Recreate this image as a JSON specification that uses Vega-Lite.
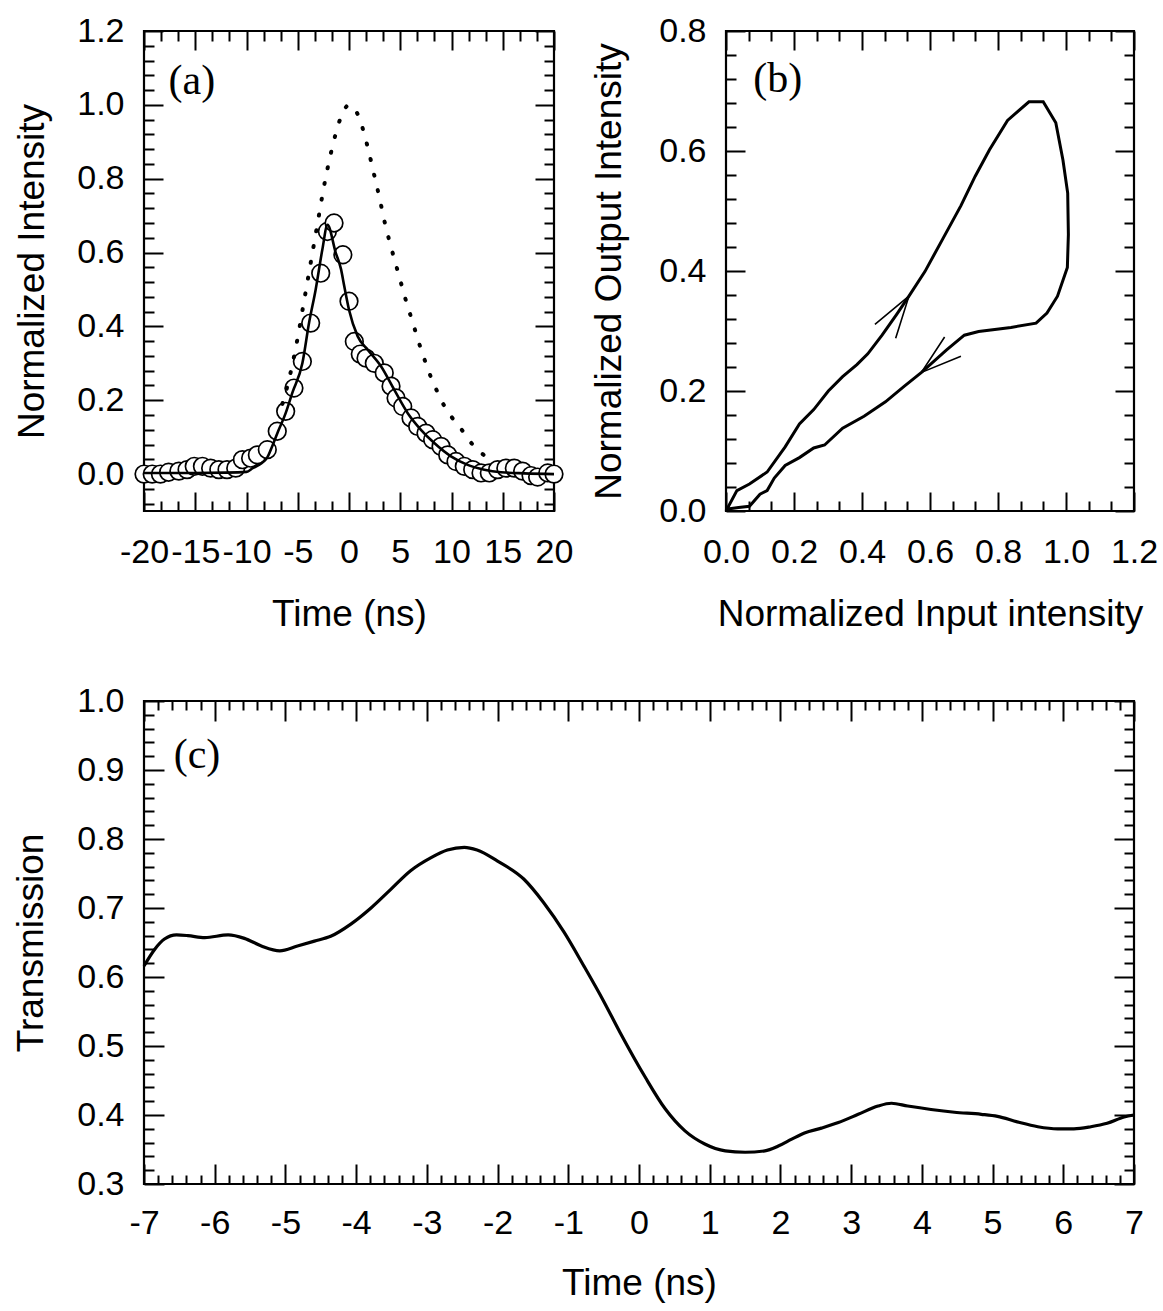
{
  "$schema": "https://vega.github.io/schema/vega-lite/v6.json",
  "background": "white",
  "padding": {"left": 11, "top": 12, "right": 5, "bottom": 5},
  "config": {
    "view": {"stroke": "black", "strokeWidth": 2.2},
    "axis": {"domain": false, "grid": false, "labelFont": "Liberation Sans", "labelFontSize": 34, "labelColor": "black", "titleFont": "Liberation Sans", "titleFontSize": 37, "titleFontWeight": "normal", "titleColor": "black", "tickColor": "black", "tickWidth": 2, "labelOverlap": false, "labelFlush": false, "labelBound": false}
  },
  "spacing": 48,
  "vconcat": [
    {
      "spacing": 14,
      "hconcat": [
        {
          "width": 410, "height": 480,
          "resolve": {"axis": {"x": "independent", "y": "independent"}},
          "layer": [
            {
              "data": {"values": [
                {"t": -20, "v": 0.0}, {"t": -19.2, "v": 0.0}, {"t": -18.4, "v": 0.0}, {"t": -17.6, "v": 0.005}, {"t": -16.6, "v": 0.008},
                {"t": -15.8, "v": 0.012}, {"t": -15.1, "v": 0.021}, {"t": -14.3, "v": 0.021}, {"t": -13.5, "v": 0.016}, {"t": -12.7, "v": 0.012},
                {"t": -11.9, "v": 0.012}, {"t": -11.05, "v": 0.016}, {"t": -10.4, "v": 0.039}, {"t": -9.6, "v": 0.043}, {"t": -8.94, "v": 0.052},
                {"t": -7.97, "v": 0.066}, {"t": -7.0, "v": 0.116}, {"t": -6.18, "v": 0.17}, {"t": -5.37, "v": 0.233}, {"t": -4.55, "v": 0.305},
                {"t": -3.74, "v": 0.409}, {"t": -2.76, "v": 0.544}, {"t": -2.11, "v": 0.657}, {"t": -1.46, "v": 0.68}, {"t": -0.6, "v": 0.594},
                {"t": 0.0, "v": 0.468}, {"t": 0.52, "v": 0.359}, {"t": 1.1, "v": 0.325}, {"t": 1.66, "v": 0.314}, {"t": 2.47, "v": 0.30},
                {"t": 3.44, "v": 0.274}, {"t": 4.1, "v": 0.238}, {"t": 4.59, "v": 0.206}, {"t": 5.24, "v": 0.183}, {"t": 6.05, "v": 0.152},
                {"t": 6.7, "v": 0.129}, {"t": 7.51, "v": 0.111}, {"t": 8.16, "v": 0.093}, {"t": 8.98, "v": 0.075}, {"t": 9.63, "v": 0.052},
                {"t": 10.44, "v": 0.034}, {"t": 11.25, "v": 0.021}, {"t": 12.07, "v": 0.012}, {"t": 12.88, "v": 0.003}, {"t": 13.69, "v": 0.003},
                {"t": 14.5, "v": 0.012}, {"t": 15.3, "v": 0.016}, {"t": 16.13, "v": 0.016}, {"t": 16.94, "v": 0.008}, {"t": 17.76, "v": -0.004},
                {"t": 18.4, "v": -0.008}, {"t": 19.39, "v": 0.003}, {"t": 20, "v": 0.0}
              ]},
              "mark": {"type": "point", "shape": "circle", "filled": true, "fill": "white", "stroke": "black", "strokeWidth": 1.7, "size": 310, "opacity": 1, "clip": false},
              "encoding": {
                "x": {"field": "t", "type": "quantitative", "scale": {"domain": [-20, 20], "nice": false, "zero": false},
                  "axis": {"orient": "bottom", "title": "Time (ns)", "titlePadding": 18,
                    "values": [-20, -18.3333, -16.6667, -15, -13.3333, -11.6667, -10, -8.3333, -6.6667, -5, -3.3333, -1.6667, 0, 1.6667, 3.3333, 5, 6.6667, 8.3333, 10, 11.6667, 13.3333, 15, 16.6667, 18.3333, 20],
                    "tickSize": {"condition": {"test": "datum.value % 5 === 0", "value": -19}, "value": -10},
                    "labelExpr": "datum.value % 5 === 0 ? '' + datum.value : ''", "labelPadding": 43}},
                "y": {"field": "v", "type": "quantitative", "scale": {"domain": [-0.1, 1.2], "nice": false, "zero": false},
                  "axis": {"orient": "left", "title": "Normalized Intensity", "titlePadding": 25,
                    "values": [-0.08, -0.04, 0, 0.04, 0.08, 0.12, 0.16, 0.2, 0.24, 0.28, 0.32, 0.36, 0.4, 0.44, 0.48, 0.52, 0.56, 0.6, 0.64, 0.68, 0.72, 0.76, 0.8, 0.84, 0.88, 0.92, 0.96, 1.0, 1.04, 1.08, 1.12, 1.16, 1.2],
                    "tickSize": {"condition": {"test": "abs(datum.value*5 - round(datum.value*5)) < 0.001", "value": -19}, "value": -10},
                    "labelExpr": "abs(datum.value*5 - round(datum.value*5)) < 0.001 ? format(datum.value, '.1f') : ''", "labelPadding": 39}}
              }
            },
            {
              "data": {"values": [
                {"t": -20, "v": 0.003}, {"t": -16, "v": 0.003}, {"t": -12, "v": 0.004}, {"t": -10, "v": 0.006}, {"t": -9.4, "v": 0.016},
                {"t": -8.5, "v": 0.03}, {"t": -7.97, "v": 0.045}, {"t": -7.5, "v": 0.075}, {"t": -7.0, "v": 0.11}, {"t": -6.18, "v": 0.165},
                {"t": -5.53, "v": 0.22}, {"t": -4.55, "v": 0.30}, {"t": -3.9, "v": 0.409}, {"t": -3.25, "v": 0.50}, {"t": -2.6, "v": 0.608},
                {"t": -2.1, "v": 0.675}, {"t": -1.3, "v": 0.6}, {"t": -0.78, "v": 0.555}, {"t": -0.47, "v": 0.51}, {"t": 0.0, "v": 0.445},
                {"t": 0.85, "v": 0.373}, {"t": 1.82, "v": 0.337}, {"t": 3.12, "v": 0.292}, {"t": 4.42, "v": 0.228}, {"t": 5.73, "v": 0.165},
                {"t": 7.02, "v": 0.12}, {"t": 8.32, "v": 0.084}, {"t": 9.95, "v": 0.048}, {"t": 11.58, "v": 0.025}, {"t": 13.2, "v": 0.012},
                {"t": 14.83, "v": 0.005}, {"t": 17.1, "v": 0.002}, {"t": 20, "v": 0.0}
              ]},
              "mark": {"type": "line", "color": "black", "strokeWidth": 2.6, "interpolate": "monotone"},
              "encoding": {
                "x": {"field": "t", "type": "quantitative", "axis": {"orient": "top", "title": null, "labels": false,
                    "values": [-20, -18.3333, -16.6667, -15, -13.3333, -11.6667, -10, -8.3333, -6.6667, -5, -3.3333, -1.6667, 0, 1.6667, 3.3333, 5, 6.6667, 8.3333, 10, 11.6667, 13.3333, 15, 16.6667, 18.3333, 20],
                    "tickSize": {"condition": {"test": "datum.value % 5 === 0", "value": -19}, "value": -10}}},
                "y": {"field": "v", "type": "quantitative", "axis": {"orient": "right", "title": null, "labels": false,
                    "values": [-0.08, -0.04, 0, 0.04, 0.08, 0.12, 0.16, 0.2, 0.24, 0.28, 0.32, 0.36, 0.4, 0.44, 0.48, 0.52, 0.56, 0.6, 0.64, 0.68, 0.72, 0.76, 0.8, 0.84, 0.88, 0.92, 0.96, 1.0, 1.04, 1.08, 1.12, 1.16, 1.2],
                    "tickSize": {"condition": {"test": "abs(datum.value*5 - round(datum.value*5)) < 0.001", "value": -19}, "value": -10}}}
              }
            },
            {
              "data": {"values": [
                {"t": -6.5, "v": 0.19}, {"t": -6.0, "v": 0.24}, {"t": -5.5, "v": 0.30}, {"t": -5.0, "v": 0.37}, {"t": -4.5, "v": 0.45},
                {"t": -4.0, "v": 0.53}, {"t": -3.5, "v": 0.61}, {"t": -3.0, "v": 0.69}, {"t": -2.5, "v": 0.77}, {"t": -2.0, "v": 0.84},
                {"t": -1.5, "v": 0.90}, {"t": -1.0, "v": 0.95}, {"t": -0.5, "v": 0.985}, {"t": 0, "v": 1.0}, {"t": 0.5, "v": 0.99},
                {"t": 1.0, "v": 0.965}, {"t": 1.5, "v": 0.92}, {"t": 2.0, "v": 0.865}, {"t": 2.5, "v": 0.805}, {"t": 3.0, "v": 0.745},
                {"t": 3.5, "v": 0.68}, {"t": 4.0, "v": 0.625}, {"t": 4.5, "v": 0.575}, {"t": 5.0, "v": 0.525}, {"t": 5.5, "v": 0.475},
                {"t": 6.0, "v": 0.43}, {"t": 6.5, "v": 0.385}, {"t": 7.0, "v": 0.34}, {"t": 7.5, "v": 0.30}, {"t": 8.0, "v": 0.262},
                {"t": 8.5, "v": 0.23}, {"t": 9.0, "v": 0.2}, {"t": 9.5, "v": 0.175}, {"t": 10, "v": 0.155}, {"t": 11, "v": 0.12},
                {"t": 12, "v": 0.082}, {"t": 13, "v": 0.055}, {"t": 14, "v": 0.035}
              ]},
              "mark": {"type": "line", "color": "black", "strokeWidth": 4, "strokeDash": [1, 15], "strokeCap": "round", "interpolate": "monotone"},
              "encoding": {
                "x": {"field": "t", "type": "quantitative", "axis": null},
                "y": {"field": "v", "type": "quantitative", "axis": null}
              }
            },
            {
              "data": {"values": [{"t": -17.6, "v": 1.065, "label": "(a)"}]},
              "mark": {"type": "text", "font": "Liberation Serif", "fontSize": 42, "align": "left", "baseline": "middle", "color": "black"},
              "encoding": {
                "x": {"field": "t", "type": "quantitative", "axis": null},
                "y": {"field": "v", "type": "quantitative", "axis": null},
                "text": {"field": "label"}
              }
            }
          ]
        },
        {
          "width": 408, "height": 480,
          "resolve": {"axis": {"x": "independent", "y": "independent"}},
          "layer": [
            {
              "data": {"values": [
                {"i": 0, "x": 0.0, "y": 0.0}, {"i": 1, "x": 0.032, "y": 0.034}, {"i": 2, "x": 0.069, "y": 0.045}, {"i": 3, "x": 0.121, "y": 0.065},
                {"i": 4, "x": 0.174, "y": 0.107}, {"i": 5, "x": 0.216, "y": 0.145}, {"i": 6, "x": 0.258, "y": 0.169}, {"i": 7, "x": 0.301, "y": 0.2},
                {"i": 8, "x": 0.343, "y": 0.224}, {"i": 9, "x": 0.385, "y": 0.244}, {"i": 10, "x": 0.417, "y": 0.262}, {"i": 11, "x": 0.459, "y": 0.293},
                {"i": 12, "x": 0.501, "y": 0.327}, {"i": 13, "x": 0.538, "y": 0.358}, {"i": 14, "x": 0.585, "y": 0.399}, {"i": 15, "x": 0.638, "y": 0.454},
                {"i": 16, "x": 0.691, "y": 0.509}, {"i": 17, "x": 0.733, "y": 0.558}, {"i": 18, "x": 0.775, "y": 0.602}, {"i": 19, "x": 0.828, "y": 0.651},
                {"i": 20, "x": 0.891, "y": 0.682}, {"i": 21, "x": 0.933, "y": 0.682}, {"i": 22, "x": 0.97, "y": 0.647}, {"i": 23, "x": 0.991, "y": 0.585},
                {"i": 24, "x": 1.005, "y": 0.53}, {"i": 25, "x": 1.007, "y": 0.461}, {"i": 26, "x": 1.004, "y": 0.406}, {"i": 27, "x": 0.975, "y": 0.358},
                {"i": 28, "x": 0.944, "y": 0.33}, {"i": 29, "x": 0.912, "y": 0.313}, {"i": 30, "x": 0.838, "y": 0.306}, {"i": 31, "x": 0.743, "y": 0.299},
                {"i": 32, "x": 0.701, "y": 0.293}, {"i": 33, "x": 0.648, "y": 0.268}, {"i": 34, "x": 0.575, "y": 0.231}, {"i": 35, "x": 0.522, "y": 0.207},
                {"i": 36, "x": 0.469, "y": 0.182}, {"i": 37, "x": 0.406, "y": 0.158}, {"i": 38, "x": 0.343, "y": 0.138}, {"i": 39, "x": 0.29, "y": 0.11},
                {"i": 40, "x": 0.258, "y": 0.105}, {"i": 41, "x": 0.216, "y": 0.089}, {"i": 42, "x": 0.174, "y": 0.076}, {"i": 43, "x": 0.142, "y": 0.055},
                {"i": 44, "x": 0.121, "y": 0.034}, {"i": 45, "x": 0.1, "y": 0.028}, {"i": 46, "x": 0.069, "y": 0.008}, {"i": 47, "x": 0.037, "y": 0.006},
                {"i": 48, "x": 0.0, "y": 0.003}
              ]},
              "mark": {"type": "line", "color": "black", "strokeWidth": 3},
              "encoding": {
                "order": {"field": "i", "type": "quantitative"},
                "x": {"field": "x", "type": "quantitative", "scale": {"domain": [0, 1.2], "nice": false, "zero": false},
                  "axis": {"orient": "bottom", "title": "Normalized Input intensity", "titlePadding": 18,
                    "values": [0, 0.0667, 0.1333, 0.2, 0.2667, 0.3333, 0.4, 0.4667, 0.5333, 0.6, 0.6667, 0.7333, 0.8, 0.8667, 0.9333, 1.0, 1.0667, 1.1333, 1.2],
                    "tickSize": {"condition": {"test": "abs(datum.value*5 - round(datum.value*5)) < 0.001", "value": -19}, "value": -10},
                    "labelExpr": "abs(datum.value*5 - round(datum.value*5)) < 0.001 ? format(datum.value, '.1f') : ''", "labelPadding": 43}},
                "y": {"field": "y", "type": "quantitative", "scale": {"domain": [0, 0.8], "nice": false, "zero": false},
                  "axis": {"orient": "left", "title": "Normalized Output Intensity", "titlePadding": 30,
                    "values": [0, 0.04, 0.08, 0.12, 0.16, 0.2, 0.24, 0.28, 0.32, 0.36, 0.4, 0.44, 0.48, 0.52, 0.56, 0.6, 0.64, 0.68, 0.72, 0.76, 0.8],
                    "tickSize": {"condition": {"test": "abs(datum.value*5 - round(datum.value*5)) < 0.001", "value": -19}, "value": -10},
                    "labelExpr": "abs(datum.value*5 - round(datum.value*5)) < 0.001 ? format(datum.value, '.1f') : ''", "labelPadding": 39}}
              }
            },
            {
              "data": {"values": [
                {"seg": "up", "i": 0, "x": 0.438, "y": 0.311}, {"seg": "up", "i": 1, "x": 0.538, "y": 0.358}, {"seg": "up", "i": 2, "x": 0.499, "y": 0.288},
                {"seg": "down", "i": 0, "x": 0.643, "y": 0.29}, {"seg": "down", "i": 1, "x": 0.575, "y": 0.231}, {"seg": "down", "i": 2, "x": 0.691, "y": 0.258}
              ]},
              "mark": {"type": "line", "color": "black", "strokeWidth": 1.6},
              "encoding": {
                "detail": {"field": "seg"},
                "order": {"field": "i", "type": "quantitative"},
                "x": {"field": "x", "type": "quantitative", "axis": {"orient": "top", "title": null, "labels": false,
                    "values": [0, 0.0667, 0.1333, 0.2, 0.2667, 0.3333, 0.4, 0.4667, 0.5333, 0.6, 0.6667, 0.7333, 0.8, 0.8667, 0.9333, 1.0, 1.0667, 1.1333, 1.2],
                    "tickSize": {"condition": {"test": "abs(datum.value*5 - round(datum.value*5)) < 0.001", "value": -19}, "value": -10}}},
                "y": {"field": "y", "type": "quantitative", "axis": {"orient": "right", "title": null, "labels": false,
                    "values": [0, 0.04, 0.08, 0.12, 0.16, 0.2, 0.24, 0.28, 0.32, 0.36, 0.4, 0.44, 0.48, 0.52, 0.56, 0.6, 0.64, 0.68, 0.72, 0.76, 0.8],
                    "tickSize": {"condition": {"test": "abs(datum.value*5 - round(datum.value*5)) < 0.001", "value": -19}, "value": -10}}}
              }
            },
            {
              "data": {"values": [{"x": 0.08, "y": 0.72, "label": "(b)"}]},
              "mark": {"type": "text", "font": "Liberation Serif", "fontSize": 42, "align": "left", "baseline": "middle", "color": "black"},
              "encoding": {
                "x": {"field": "x", "type": "quantitative", "axis": null},
                "y": {"field": "y", "type": "quantitative", "axis": null},
                "text": {"field": "label"}
              }
            }
          ]
        }
      ]
    },
    {
      "width": 990, "height": 483,
      "resolve": {"axis": {"x": "independent", "y": "independent"}},
      "layer": [
        {
          "data": {"values": [
            {"t": -7.0, "v": 0.616}, {"t": -6.85, "v": 0.64}, {"t": -6.71, "v": 0.655}, {"t": -6.54, "v": 0.661}, {"t": -6.38, "v": 0.66},
            {"t": -6.14, "v": 0.657}, {"t": -5.81, "v": 0.661}, {"t": -5.58, "v": 0.656}, {"t": -5.34, "v": 0.645}, {"t": -5.08, "v": 0.638},
            {"t": -4.83, "v": 0.645}, {"t": -4.59, "v": 0.652}, {"t": -4.36, "v": 0.659}, {"t": -4.07, "v": 0.677}, {"t": -3.79, "v": 0.70},
            {"t": -3.51, "v": 0.727}, {"t": -3.23, "v": 0.754}, {"t": -2.94, "v": 0.773}, {"t": -2.71, "v": 0.784}, {"t": -2.47, "v": 0.788},
            {"t": -2.29, "v": 0.784}, {"t": -2.0, "v": 0.768}, {"t": -1.63, "v": 0.742}, {"t": -1.35, "v": 0.708}, {"t": -1.06, "v": 0.665},
            {"t": -0.78, "v": 0.616}, {"t": -0.5, "v": 0.565}, {"t": -0.27, "v": 0.52}, {"t": 0.087, "v": 0.455},
            {"t": 0.37, "v": 0.409}, {"t": 0.65, "v": 0.377}, {"t": 0.93, "v": 0.358}, {"t": 1.22, "v": 0.348}, {"t": 1.5, "v": 0.346},
            {"t": 1.78, "v": 0.348}, {"t": 1.97, "v": 0.355}, {"t": 2.16, "v": 0.365}, {"t": 2.34, "v": 0.374}, {"t": 2.58, "v": 0.381},
            {"t": 2.82, "v": 0.389}, {"t": 3.1, "v": 0.401}, {"t": 3.38, "v": 0.413}, {"t": 3.57, "v": 0.417}, {"t": 3.8, "v": 0.413},
            {"t": 4.13, "v": 0.408}, {"t": 4.46, "v": 0.404}, {"t": 4.84, "v": 0.401}, {"t": 5.07, "v": 0.398}, {"t": 5.35, "v": 0.39},
            {"t": 5.64, "v": 0.383}, {"t": 5.92, "v": 0.38}, {"t": 6.15, "v": 0.38}, {"t": 6.39, "v": 0.383}, {"t": 6.62, "v": 0.388},
            {"t": 6.86, "v": 0.397}, {"t": 7.0, "v": 0.4}
          ]},
          "mark": {"type": "line", "color": "black", "strokeWidth": 3.2, "interpolate": "monotone"},
          "encoding": {
            "x": {"field": "t", "type": "quantitative", "scale": {"domain": [-7, 7], "nice": false, "zero": false},
              "axis": {"orient": "bottom", "title": "Time (ns)", "titlePadding": 14,
                "values": [-7, -6.8, -6.6, -6.4, -6.2, -6, -5.8, -5.6, -5.4, -5.2, -5, -4.8, -4.6, -4.4, -4.2, -4, -3.8, -3.6, -3.4, -3.2, -3, -2.8, -2.6, -2.4, -2.2, -2, -1.8, -1.6, -1.4, -1.2, -1, -0.8, -0.6, -0.4, -0.2, 0, 0.2, 0.4, 0.6, 0.8, 1, 1.2, 1.4, 1.6, 1.8, 2, 2.2, 2.4, 2.6, 2.8, 3, 3.2, 3.4, 3.6, 3.8, 4, 4.2, 4.4, 4.6, 4.8, 5, 5.2, 5.4, 5.6, 5.8, 6, 6.2, 6.4, 6.6, 6.8, 7],
                "tickSize": {"condition": {"test": "datum.value % 1 === 0", "value": -20}, "value": -9},
                "labelExpr": "datum.value % 1 === 0 ? '' + datum.value : ''", "labelPadding": 42}},
            "y": {"field": "v", "type": "quantitative", "scale": {"domain": [0.3, 1.0], "nice": false, "zero": false},
              "axis": {"orient": "left", "title": "Transmission", "titlePadding": 26,
                "values": [0.3, 0.32, 0.34, 0.36, 0.38, 0.4, 0.42, 0.44, 0.46, 0.48, 0.5, 0.52, 0.54, 0.56, 0.58, 0.6, 0.62, 0.64, 0.66, 0.68, 0.7, 0.72, 0.74, 0.76, 0.78, 0.8, 0.82, 0.84, 0.86, 0.88, 0.9, 0.92, 0.94, 0.96, 0.98, 1.0],
                "tickSize": {"condition": {"test": "abs(datum.value*10 - round(datum.value*10)) < 0.001", "value": -20}, "value": -10},
                "labelExpr": "abs(datum.value*10 - round(datum.value*10)) < 0.001 ? format(datum.value, '.1f') : ''", "labelPadding": 40}}
          }
        },
        {
          "data": {"values": [{"t": -6.58, "v": 0.922, "label": "(c)"}]},
          "mark": {"type": "text", "font": "Liberation Serif", "fontSize": 42, "align": "left", "baseline": "middle", "color": "black"},
          "encoding": {
            "x": {"field": "t", "type": "quantitative", "axis": {"orient": "top", "title": null, "labels": false,
                "values": [-7, -6.8, -6.6, -6.4, -6.2, -6, -5.8, -5.6, -5.4, -5.2, -5, -4.8, -4.6, -4.4, -4.2, -4, -3.8, -3.6, -3.4, -3.2, -3, -2.8, -2.6, -2.4, -2.2, -2, -1.8, -1.6, -1.4, -1.2, -1, -0.8, -0.6, -0.4, -0.2, 0, 0.2, 0.4, 0.6, 0.8, 1, 1.2, 1.4, 1.6, 1.8, 2, 2.2, 2.4, 2.6, 2.8, 3, 3.2, 3.4, 3.6, 3.8, 4, 4.2, 4.4, 4.6, 4.8, 5, 5.2, 5.4, 5.6, 5.8, 6, 6.2, 6.4, 6.6, 6.8, 7],
                "tickSize": {"condition": {"test": "datum.value % 1 === 0", "value": -20}, "value": -9}}},
            "y": {"field": "v", "type": "quantitative", "axis": {"orient": "right", "title": null, "labels": false,
                "values": [0.3, 0.32, 0.34, 0.36, 0.38, 0.4, 0.42, 0.44, 0.46, 0.48, 0.5, 0.52, 0.54, 0.56, 0.58, 0.6, 0.62, 0.64, 0.66, 0.68, 0.7, 0.72, 0.74, 0.76, 0.78, 0.8, 0.82, 0.84, 0.86, 0.88, 0.9, 0.92, 0.94, 0.96, 0.98, 1.0],
                "tickSize": {"condition": {"test": "abs(datum.value*10 - round(datum.value*10)) < 0.001", "value": -20}, "value": -10}}},
            "text": {"field": "label"}
          }
        }
      ]
    }
  ]
}
